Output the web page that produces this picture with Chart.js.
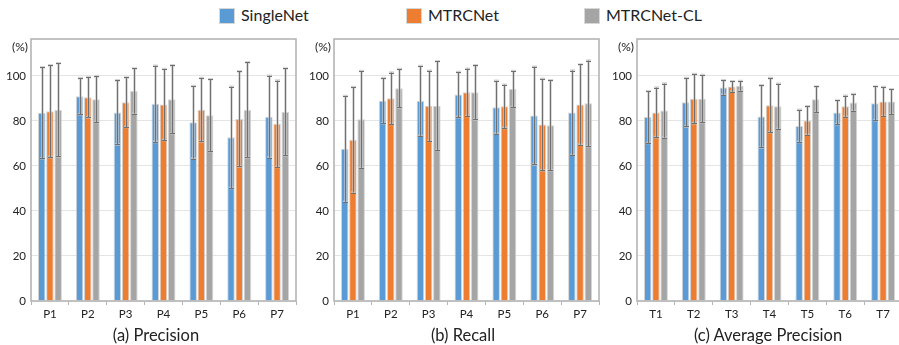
<!DOCTYPE html>
<html>
<head>
<meta charset="utf-8">
<script src="https://cdn.jsdelivr.net/npm/chart.js@4"></script>
<style>
  html, body { margin: 0; padding: 0; background: #fff; overflow: hidden; }
  body { width: 899px; height: 345px; position: relative; font-family: Lato, "Open Sans", sans-serif; color: #222; }
  .panel { position: absolute; top: 0; width: 300px; height: 345px; }
  .legend { position: absolute; top: 6px; height: 18px; font-size: 16px; line-height: 18px; white-space: nowrap; }
  .legend .sw { display: inline-block; width: 14px; height: 14px; vertical-align: -2px; margin-right: 7px; box-shadow: 0 0 0 1px rgba(200,200,200,0.7); }
  .caption { position: absolute; top: 325px; font-size: 16.5px; line-height: 20px; white-space: nowrap; transform: translateX(-50%); }
</style>
</head>
<body>
<div id="legend"></div>
<div class="panel" style="left:0px"><canvas id="cPrec" width="300" height="345"></canvas></div>
<div class="panel" style="left:303px"><canvas id="cRec" width="300" height="345"></canvas></div>
<div class="panel" style="left:606px"><canvas id="cAP" width="300" height="345"></canvas></div>
<div class="caption" style="left:156px">(a) Precision</div>
<div class="caption" style="left:463px">(b) Recall</div>
<div class="caption" style="left:768px">(c) Average Precision</div>

<script>
// Series names and colours
const seriesNames = ['SingleNet', 'MTRCNet', 'MTRCNet-CL'];
const seriesColors = ['#5B9BD5', '#ED7D31', '#A5A5A5'];

// Categories
const precCats = ['P1', 'P2', 'P3', 'P4', 'P5', 'P6', 'P7'];
const recCats  = ['P1', 'P2', 'P3', 'P4', 'P5', 'P6', 'P7'];
const apCats   = ['T1', 'T2', 'T3', 'T4', 'T5', 'T6', 'T7'];

// Y tick values (%)
const yTicks = [0, 20, 40, 60, 80, 100];

// (a) Precision: mean and standard deviation
const precSingle    = [83.6, 91.0, 83.8, 87.6, 79.4, 72.7, 81.9];
const precSingleErr = [20.2, 8.0, 14.2, 16.9, 16.1, 22.5, 18.2];
const precMtrc      = [84.3, 90.5, 88.3, 87.3, 85.0, 80.9, 78.7];
const precMtrcErr   = [20.4, 8.9, 11.0, 15.8, 14.1, 21.1, 19.2];
const precCl        = [84.9, 89.6, 93.3, 89.6, 82.5, 84.9, 84.0];
const precClErr     = [20.7, 10.2, 10.0, 15.1, 16.0, 21.1, 19.3];

// (b) Recall
const recSingle    = [67.6, 89.0, 88.9, 91.7, 86.1, 82.4, 83.7];
const recSingleErr = [23.5, 10.0, 15.5, 10.0, 11.7, 21.7, 18.7];
const recMtrc      = [71.6, 90.1, 86.7, 92.7, 86.5, 78.4, 87.3];
const recMtrcErr   = [23.4, 11.4, 15.6, 10.5, 9.6, 20.3, 17.8];
const recCl        = [80.7, 94.5, 86.8, 92.7, 94.2, 78.1, 87.8];
const recClErr     = [21.5, 8.5, 19.7, 12.0, 8.0, 20.0, 19.0];

// (c) Average Precision
const apSingle    = [81.7, 88.3, 94.8, 82.0, 77.8, 83.8, 87.8];
const apSingleErr = [11.5, 10.7, 3.2, 13.8, 7.1, 5.3, 7.5];
const apMtrc      = [83.8, 89.9, 95.3, 87.0, 80.2, 86.5, 88.6];
const apMtrcErr   = [11.0, 10.9, 2.3, 12.0, 6.3, 4.7, 6.4];
const apCl        = [84.6, 89.9, 95.6, 86.5, 89.6, 88.2, 88.6];
const apClErr     = [12.0, 10.5, 2.1, 10.0, 5.7, 3.7, 5.5];

const FONT = 'Lato, "Open Sans", sans-serif';

// Legend row
const legendPos = [220, 407, 585];
const legendEl = document.getElementById('legend');
seriesNames.forEach((name, i) => {
  const d = document.createElement('div');
  d.className = 'legend';
  d.style.left = legendPos[i] + 'px';
  d.innerHTML = '<span class="sw" style="background:' + seriesColors[i] + '"></span>' + name;
  legendEl.appendChild(d);
});

// Error bars, plot frame and the "(%)" unit label
const extrasPlugin = {
  id: 'extras',
  afterDatasetsDraw(chart) {
    const ctx = chart.ctx;
    const y = chart.scales.y;
    ctx.save();
    chart.data.datasets.forEach((ds, di) => {
      const meta = chart.getDatasetMeta(di);
      meta.data.forEach((bar, i) => {
        const v = ds.data[i], e = ds.errors[i];
        const top = y.getPixelForValue(v + e);
        const bot = y.getPixelForValue(v - e);
        const x = Math.round(bar.x) + 0.5;
        ctx.strokeStyle = 'rgba(200,200,200,0.8)';
        ctx.lineWidth = 2.6;
        ctx.beginPath();
        ctx.moveTo(x, top); ctx.lineTo(x, bot);
        ctx.moveTo(x - 2.5, top); ctx.lineTo(x + 2.5, top);
        ctx.moveTo(x - 2.5, bot); ctx.lineTo(x + 2.5, bot);
        ctx.stroke();
        ctx.strokeStyle = '#6f6f6f';
        ctx.lineWidth = 1;
        ctx.beginPath();
        ctx.moveTo(x, top); ctx.lineTo(x, bot);
        ctx.moveTo(x - 2.5, Math.round(top) + 0.5); ctx.lineTo(x + 2.5, Math.round(top) + 0.5);
        ctx.moveTo(x - 2.5, Math.round(bot) + 0.5); ctx.lineTo(x + 2.5, Math.round(bot) + 0.5);
        ctx.stroke();
      });
    });
    const a = chart.chartArea;
    ctx.strokeStyle = '#b4b4b4';
    ctx.lineWidth = 1.6;
    ctx.strokeRect(a.left, a.top, a.right - a.left, a.bottom - a.top);
    ctx.fillStyle = '#222';
    ctx.font = '12px ' + FONT;
    ctx.textAlign = 'right';
    ctx.textBaseline = 'middle';
    ctx.fillText('(%)', a.left - 3, a.top + 8);
    ctx.restore();
  }
};

function makeChart(id, cats, vals, errs) {
  new Chart(document.getElementById(id), {
    type: 'bar',
    data: {
      labels: cats,
      datasets: seriesNames.map((name, i) => ({
        label: name,
        data: vals[i],
        errors: errs[i],
        backgroundColor: seriesColors[i],
        borderColor: 'rgba(205,205,205,0.85)',
        borderWidth: 1,
        categoryPercentage: 0.65,
        barPercentage: 0.92
      }))
    },
    options: {
      responsive: false,
      animation: false,
      devicePixelRatio: 1,
      layout: { padding: { top: 39, right: 4, left: 0, bottom: 0 } },
      plugins: { legend: { display: false }, tooltip: { enabled: false } },
      scales: {
        x: {
          offset: true,
          grid: { display: true, drawOnChartArea: false, drawTicks: true, tickLength: 4, color: '#b4b4b4', offset: true },
          border: { display: false },
          ticks: { color: '#222', font: { family: FONT, size: 11.5 }, padding: 2 },
          afterFit(s) { s.height = 44; }
        },
        y: {
          min: 0,
          max: 116.4,
          grid: { color: '#e4e4e4', drawTicks: false, lineWidth: 1 },
          border: { display: false },
          ticks: { color: '#222', font: { family: FONT, size: 11.5 }, padding: 5 },
          afterBuildTicks(s) { s.ticks = yTicks.map(v => ({ value: v })); },
          afterFit(s) { s.width = 31; }
        }
      }
    },
    plugins: [extrasPlugin]
  });
}

makeChart('cPrec', precCats, [precSingle, precMtrc, precCl], [precSingleErr, precMtrcErr, precClErr]);
makeChart('cRec',  recCats,  [recSingle, recMtrc, recCl],    [recSingleErr, recMtrcErr, recClErr]);
makeChart('cAP',   apCats,   [apSingle, apMtrc, apCl],       [apSingleErr, apMtrcErr, apClErr]);
</script>
</body>
</html>
